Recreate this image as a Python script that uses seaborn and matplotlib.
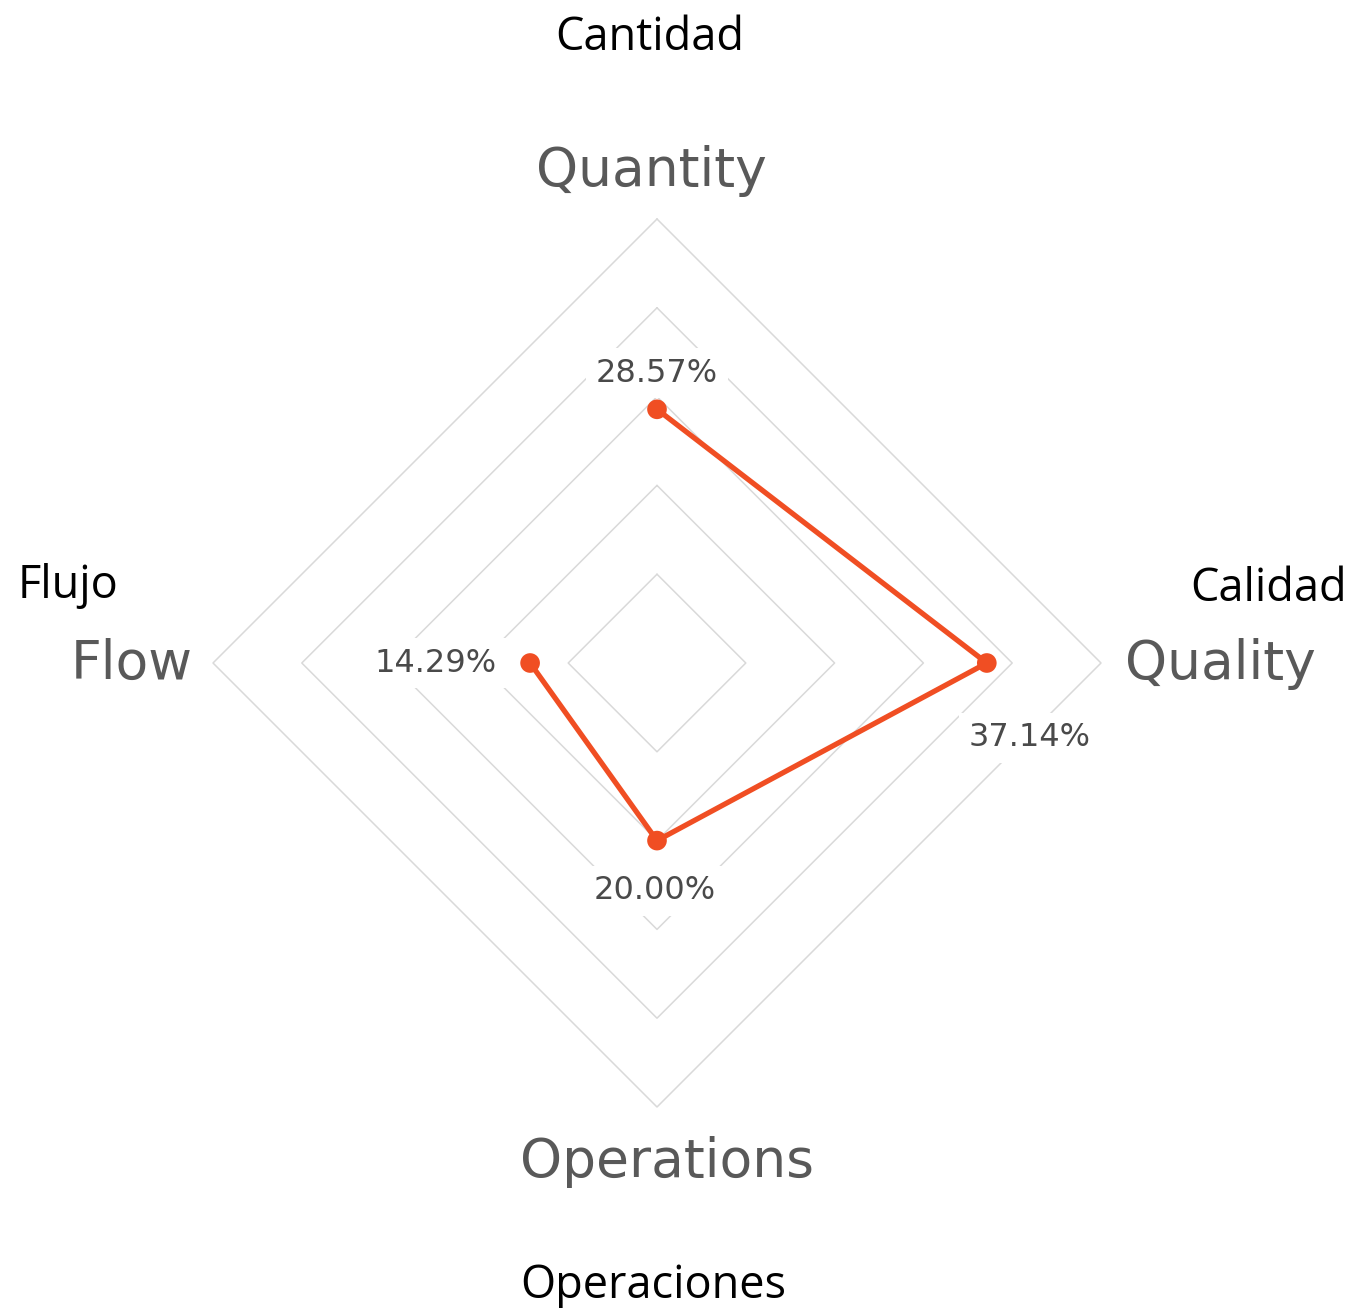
import matplotlib.pyplot as plt
import seaborn as sns
import numpy as np
import pandas as pd

# data
categories = ["Quantity", "Quality", "Operations", "Flow"]
spanish = ["Cantidad", "Calidad", "Operaciones", "Flujo"]
values = [28.57, 37.14, 20.00, 14.29]
value_labels = ["28.57%", "37.14%", "20.00%", "14.29%"]
grid_levels = [10, 20, 30, 40, 50]

sns.set_style("white")

angles = np.array([0, 90, 180, 270]) * np.pi / 180  # clockwise from top


def to_xy(r, a):
    return r * np.sin(a), r * np.cos(a)


x, y = to_xy(np.array(values), angles)
df = pd.DataFrame({"x": np.append(x, x[0]), "y": np.append(y, y[0]),
                   "order": range(len(x) + 1)})

fig = plt.figure(figsize=(13.55, 13.08), dpi=100)
ax = fig.add_axes([0, 0, 1, 1])
scale = 444 / 50
ax.set_xlim(-657 / scale, (1355 - 657) / scale)
ax.set_ylim(-(1308 - 663) / scale, 663 / scale)
ax.set_aspect("equal")
ax.axis("off")

# diamond grid
for lv in grid_levels:
    gx, gy = to_xy(np.full(5, lv), np.append(angles, angles[0]))
    ax.plot(gx, gy, color="#d9d9d9", lw=1.1, zorder=1)

sns.lineplot(data=df, x="x", y="y", sort=False, color="#f04e23", lw=3.8,
             ax=ax, zorder=3, legend=False)
sns.scatterplot(data=df.iloc[:-1], x="x", y="y", color="#f04e23", s=200,
                edgecolor="none", ax=ax, zorder=4, legend=False)
ax.set_xlabel("")
ax.set_ylabel("")

# value labels
offsets = [(0, 26), (31, -54), (-2, -36), (-68, 0)]
for xi, yi, lab, off in zip(x, y, value_labels, offsets):
    ax.annotate(lab, (xi, yi), xytext=off, textcoords="offset points",
                ha="center", va="center", fontsize=23, color="#4a4a4a",
                family="DejaVu Sans",
                bbox=dict(facecolor="white", edgecolor="none", pad=7), zorder=2)

# category labels
cat_pos = [(-0.6, 55.4), (63.4, -0.1), (1.1, -56.2), (-59.2, -0.1)]
for (cx, cy), lab in zip(cat_pos, categories):
    ax.text(cx, cy, lab, ha="center", va="center", fontsize=38.5,
            color="#595959", family="DejaVu Sans")

es_pos = [(-0.8, 70.4), (68.9, 8.3), (-0.4, -70.2), (-66.3, 8.7)]
for (cx, cy), lab in zip(es_pos, spanish):
    ax.text(cx, cy, lab, ha="center", va="center", fontsize=32.5,
            color="black", family="Open Sans")

fig.savefig("out.png", dpi=100, facecolor="white")
